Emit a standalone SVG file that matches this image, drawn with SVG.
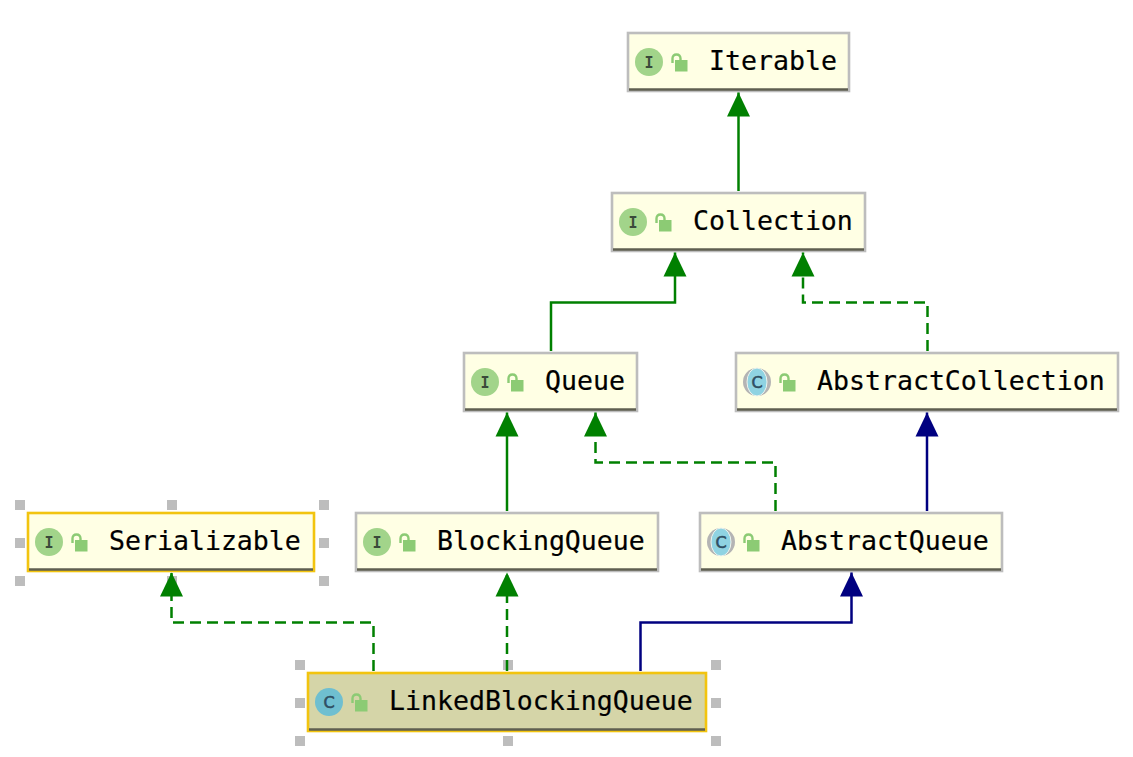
<svg xmlns="http://www.w3.org/2000/svg" width="1133" height="757" viewBox="0 0 1133 757">
<style>
.box{fill:#ffffe4;stroke:#bdbdbd;stroke-width:2.6}
.sel{stroke:#f2c40f}
.cur{fill:#d5d5a8;stroke:#f2c40f;stroke-width:2.6}
.base{stroke:#5f5f50;stroke-width:2.6;fill:none}
.name{font-family:"DejaVu Sans Mono","Liberation Mono",monospace;font-size:26.55px;fill:#000;stroke:#000;stroke-width:.2}
.ic{font-family:"DejaVu Sans Mono",monospace;font-size:15px;font-weight:bold;fill:#3a4a3a;text-anchor:middle}
.cc{font-family:"DejaVu Sans",sans-serif;font-size:16px;fill:#2f4f63;stroke:#2f4f63;stroke-width:.6;text-anchor:middle}
.ci{fill:#a2d48a}
.cl{fill:#6fbfd0}
.cb{fill:#8fd3e2;stroke:#eef4ee;stroke-width:1}
.cg{fill:#b4b4b4}
.lock{fill:#8ccb74}
.shackle{fill:none;stroke:#8ccb74;stroke-width:2.4}
.h{fill:#bdbdbd}
.edge{fill:none;stroke-width:2.5}
.g{stroke:#008000}
.n{stroke:#000080}
.d{stroke-dasharray:11 6}
</style>
<defs>
<g id="lk"><rect class="lock" x="5" y="-4" width="12.500" height="11.500"/><path class="shackle" d="M2.500 -1V-5.500Q2.500 -9.500 6.500 -9.500Q10.500 -9.500 10.500 -5.500V-4"/></g>
<marker id="ag" markerUnits="userSpaceOnUse" markerWidth="26" markerHeight="26" refX="24" refY="12" orient="auto"><path d="M0 .5L24 12L0 23.500Z" fill="#008000"/></marker>
<marker id="an" markerUnits="userSpaceOnUse" markerWidth="26" markerHeight="26" refX="24" refY="12" orient="auto"><path d="M0 .5L24 12L0 23.500Z" fill="#000080"/></marker>
</defs>
<g id="node-iterable"><rect class="box" x="628" y="33" width="221" height="58"/><path class="base" d="M629 89.500H848"/><circle class="ci" cx="649" cy="62" r="14"/><text class="ic" x="649" y="67.500">I</text><use href="#lk" x="670" y="64"/><text class="name" x="709" y="70">Iterable</text></g>
<g id="node-collection"><rect class="box" x="612" y="193" width="253" height="58"/><path class="base" d="M613 249.500H864"/><circle class="ci" cx="633" cy="222" r="14"/><text class="ic" x="633" y="227.500">I</text><use href="#lk" x="654" y="224"/><text class="name" x="693" y="230">Collection</text></g>
<g id="node-queue"><rect class="box" x="464" y="353" width="173" height="58"/><path class="base" d="M465 409.500H636"/><circle class="ci" cx="485" cy="382" r="14"/><text class="ic" x="485" y="387.500">I</text><use href="#lk" x="506" y="384"/><text class="name" x="545" y="390">Queue</text></g>
<g id="node-abstractcollection"><rect class="box" x="736" y="353" width="382" height="58"/><path class="base" d="M737 409.500H1117"/><circle class="cg" cx="757" cy="382" r="14"/><ellipse class="cb" cx="757" cy="382" rx="10" ry="14"/><text class="cc" x="757" y="387.800">C</text><use href="#lk" x="778" y="384"/><text class="name" x="817" y="390">AbstractCollection</text></g>
<g id="node-serializable"><rect class="box sel" x="28" y="513" width="286" height="58"/><path class="base" d="M29 569.500H313"/><circle class="ci" cx="49" cy="542" r="14"/><text class="ic" x="49" y="547.500">I</text><use href="#lk" x="70" y="544"/><text class="name" x="109" y="550">Serializable</text>
<rect class="h" x="15" y="500" width="10" height="10"/><rect class="h" x="167" y="500" width="10" height="10"/><rect class="h" x="319" y="500" width="10" height="10"/><rect class="h" x="15" y="538" width="10" height="10"/><rect class="h" x="319" y="538" width="10" height="10"/><rect class="h" x="15" y="576" width="10" height="10"/><rect class="h" x="167" y="576" width="10" height="10"/><rect class="h" x="319" y="576" width="10" height="10"/></g>
<g id="node-blockingqueue"><rect class="box" x="356" y="513" width="302" height="58"/><path class="base" d="M357 569.500H657"/><circle class="ci" cx="377" cy="542" r="14"/><text class="ic" x="377" y="547.500">I</text><use href="#lk" x="398" y="544"/><text class="name" x="437" y="550">BlockingQueue</text></g>
<g id="node-abstractqueue"><rect class="box" x="700" y="513" width="302" height="58"/><path class="base" d="M701 569.500H1001"/><circle class="cg" cx="721" cy="542" r="14"/><ellipse class="cb" cx="721" cy="542" rx="10" ry="14"/><text class="cc" x="721" y="547.800">C</text><use href="#lk" x="742" y="544"/><text class="name" x="781" y="550">AbstractQueue</text></g>
<g id="node-linkedblockingqueue"><rect class="cur" x="308" y="673" width="398" height="58"/><path class="base" d="M309 729.500H705"/><circle class="cl" cx="329" cy="702" r="14"/><text class="cc" x="329" y="707.800">C</text><use href="#lk" x="350" y="704"/><text class="name" x="389" y="710">LinkedBlockingQueue</text>
<rect class="h" x="295" y="660" width="10" height="10"/><rect class="h" x="503" y="660" width="10" height="10"/><rect class="h" x="711" y="660" width="10" height="10"/><rect class="h" x="295" y="698" width="10" height="10"/><rect class="h" x="711" y="698" width="10" height="10"/><rect class="h" x="295" y="736" width="10" height="10"/><rect class="h" x="503" y="736" width="10" height="10"/><rect class="h" x="711" y="736" width="10" height="10"/></g>
<g id="connectors">
<path class="edge g" d="M738.500 191V92.500" marker-end="url(#ag)"/>
<path class="edge g" d="M551 351V302.500H675V252.500" marker-end="url(#ag)"/>
<path class="edge g d" d="M927.500 351V302.500H803V252.500" marker-end="url(#ag)"/>
<path class="edge g" d="M507 511V412.500" marker-end="url(#ag)"/>
<path class="edge g d" d="M775.500 511V462.500H595.500V412.500" marker-end="url(#ag)"/>
<path class="edge n" d="M927 511V412.500" marker-end="url(#an)"/>
<path class="edge g d" d="M373.500 671V622.500H171.500V572.500" marker-end="url(#ag)"/>
<path class="edge g d" d="M507 671V572.500" marker-end="url(#ag)"/>
<path class="edge n" d="M640.500 671V622.500H851.500V572.500" marker-end="url(#an)"/>
</g>
</svg>
